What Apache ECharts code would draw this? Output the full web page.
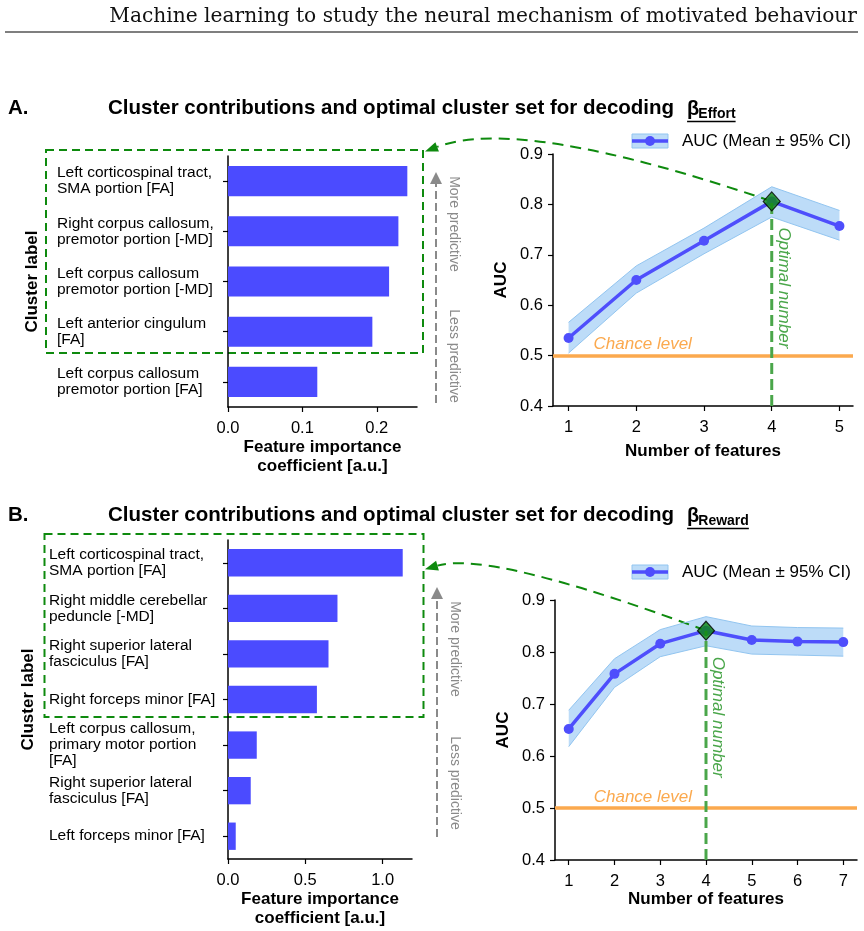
<!DOCTYPE html>
<html>
<head>
<meta charset="utf-8">
<script src="https://cdn.jsdelivr.net/npm/echarts@6/dist/echarts.min.js"></script>
<style>
  html, body { margin: 0; padding: 0; background: #fff; }
  #chart { width: 864px; height: 931px; }
</style>
</head>
<body>
<div id="chart"></div>
<script>
// ---- data ----
const effortLabels = [
  'Left corticospinal tract,\nSMA portion [FA]',
  'Right corpus callosum,\npremotor portion [-MD]',
  'Left corpus callosum\npremotor portion [-MD]',
  'Left anterior cingulum\n[FA]',
  'Left corpus callosum\npremotor portion [FA]'
];
const effortImportance = [0.241, 0.229, 0.2165, 0.194, 0.120];
const effortImportanceTicks = [0, 0.1, 0.2];

const effortFeatures = [1, 2, 3, 4, 5];
const effortAuc = [0.535, 0.650, 0.728, 0.806, 0.757];
const effortAucLow = [0.505, 0.624, 0.702, 0.775, 0.729];
const effortAucHigh = [0.566, 0.678, 0.753, 0.835, 0.788];
const effortOptimal = 4;

const rewardLabels = [
  'Left corticospinal tract,\nSMA portion [FA]',
  'Right middle cerebellar\npeduncle [-MD]',
  'Right superior lateral\nfasciculus [FA]',
  'Right forceps minor [FA]',
  'Left corpus callosum,\nprimary motor portion\n[FA]',
  'Right superior lateral\nfasciculus [FA]',
  'Left forceps minor [FA]'
];
const rewardImportance = [1.13, 0.708, 0.650, 0.575, 0.186, 0.147, 0.050];
const rewardImportanceTicks = [0, 0.5, 1.0];

const rewardFeatures = [1, 2, 3, 4, 5, 6, 7];
const rewardAuc = [0.652, 0.758, 0.816, 0.841, 0.823, 0.820, 0.819];
const rewardAucLow = [0.618, 0.732, 0.791, 0.812, 0.796, 0.794, 0.792];
const rewardAucHigh = [0.688, 0.787, 0.843, 0.868, 0.850, 0.847, 0.846];
const rewardOptimal = 4;

const chanceLevel = 0.5;
const aucMin = 0.4;
const aucMax = 0.9;

// ---- styles ----
const FONT = '"Liberation Sans", Arial, Helvetica, sans-serif';
const BAR_BLUE = '#4b4bff';
const LINE_BLUE = '#4e4efc';
const BAND_FILL = '#bddcf8';
const BAND_EDGE = '#92c5f0';
const GREEN = '#0e8a0e';
const LIGHT_GREEN = '#4aa64a';
const ORANGE = '#fba94e';
const GRAY = '#8a8a8a';

const chart = echarts.init(document.getElementById('chart'));

const axisLineStyle = { show: true, lineStyle: { color: '#000', width: 1.5 } };
const tickStyle = { show: true, length: 5, lineStyle: { color: '#000', width: 1.2 } };
const tickLabel = { color: '#000', fontFamily: FONT, fontSize: 16.5 };
const nameStyle = { color: '#000', fontFamily: FONT, fontSize: 17, fontWeight: 'bold' };

function importanceXAxis(gridIndex, max, ticks) {
  return {
    gridIndex, type: 'value', min: 0, max,
    axisLine: axisLineStyle,
    axisTick: { ...tickStyle, customValues: ticks },
    axisLabel: { ...tickLabel, customValues: ticks, margin: 13, formatter: v => v.toFixed(1) },
    splitLine: { show: false },
    name: 'Feature importance\ncoefficient [a.u.]',
    nameLocation: 'middle', nameGap: 30,
    nameTextStyle: { ...nameStyle, lineHeight: 19 }
  };
}

function labelYAxis(gridIndex, labels, margin, nameGap) {
  return {
    gridIndex, type: 'category', inverse: true, data: labels,
    axisLine: axisLineStyle,
    axisTick: { ...tickStyle, alignWithLabel: true },
    axisLabel: { color: '#000', fontFamily: FONT, fontSize: 15.5, lineHeight: 16,
                 align: 'left', margin, interval: 0 },
    name: 'Cluster label', nameLocation: 'middle', nameRotate: 90,
    nameGap, nameTextStyle: nameStyle
  };
}

function featureXAxis(gridIndex, min, max, ticks, gap) {
  return {
    gridIndex, type: 'value', min, max,
    axisLine: axisLineStyle,
    axisTick: { ...tickStyle, customValues: ticks },
    axisLabel: { ...tickLabel, customValues: ticks, margin: 13 },
    splitLine: { show: false },
    name: 'Number of features', nameLocation: 'middle', nameGap: gap,
    nameTextStyle: nameStyle
  };
}

function aucYAxis(gridIndex) {
  return {
    gridIndex, type: 'value', min: aucMin, max: aucMax, interval: 0.1,
    axisLine: axisLineStyle,
    axisTick: tickStyle,
    axisLabel: { ...tickLabel, margin: 10, formatter: v => v.toFixed(1) },
    splitLine: { show: false },
    name: 'AUC', nameLocation: 'middle', nameRotate: 90, nameGap: 43,
    nameTextStyle: nameStyle
  };
}

function aucSeries(axisIndex, features, mean, low, high, optimal) {
  const optIdx = features.indexOf(optimal);
  const edge = values => ({
    type: 'line', xAxisIndex: axisIndex, yAxisIndex: axisIndex,
    data: features.map((f, i) => [f, values[i]]),
    symbol: 'none', lineStyle: { color: BAND_EDGE, width: 1 }, z: 2, silent: true
  });
  return [
    {
      // 95% CI band, drawn through the axes' own coordinate system
      type: 'custom', xAxisIndex: axisIndex, yAxisIndex: axisIndex, silent: true, z: 1,
      data: features.map((f, i) => [f, low[i], high[i]]),
      encode: { x: 0, y: [1, 2] },
      renderItem: (params, api) => {
        if (params.dataIndex !== 0) return null;
        const top = features.map((f, i) => api.coord([f, high[i]]));
        const bottom = features.map((f, i) => api.coord([f, low[i]])).reverse();
        return { type: 'polygon', shape: { points: top.concat(bottom) },
                 style: { fill: BAND_FILL, stroke: null } };
      }
    },
    edge(low),
    edge(high),
    {
      type: 'line', xAxisIndex: axisIndex, yAxisIndex: axisIndex,
      data: features.map((f, i) => [f, mean[i]]),
      symbol: 'circle', symbolSize: 10,
      lineStyle: { color: LINE_BLUE, width: 3.5 },
      itemStyle: { color: LINE_BLUE }, z: 4, silent: true,
      markLine: {
        silent: true, symbol: 'none', label: { show: false },
        lineStyle: { color: ORANGE, width: 3.5, type: 'solid' },
        data: [{ yAxis: chanceLevel }], z: 3
      }
    },
    {
      type: 'line', xAxisIndex: axisIndex, yAxisIndex: axisIndex,
      data: [[optimal, aucMin], [optimal, mean[optIdx]]],
      symbol: 'none', lineStyle: { color: LIGHT_GREEN, width: 3, type: [11, 5] },
      z: 5, silent: true
    },
    {
      type: 'scatter', xAxisIndex: axisIndex, yAxisIndex: axisIndex,
      data: [[optimal, mean[optIdx]]],
      symbol: 'diamond', symbolSize: [17, 19],
      itemStyle: { color: GREEN, borderColor: '#000', borderWidth: 1.2 },
      z: 8, silent: true
    }
  ];
}

const option = {
  animation: false,
  backgroundColor: '#fff',
  textStyle: { fontFamily: FONT },
  grid: [
    { left: 228, top: 156, width: 189, height: 251, containLabel: false, outerBoundsMode: 'none' },
    { left: 553, top: 154, width: 300, height: 252, containLabel: false, outerBoundsMode: 'none' },
    { left: 228, top: 540, width: 184, height: 319, containLabel: false, outerBoundsMode: 'none' },
    { left: 555, top: 600, width: 302, height: 260, containLabel: false, outerBoundsMode: 'none' }
  ],
  xAxis: [
    importanceXAxis(0, 0.254, effortImportanceTicks),
    featureXAxis(1, 0.77, 5.2, effortFeatures, 37),
    importanceXAxis(2, 1.19, rewardImportanceTicks),
    featureXAxis(3, 0.7, 7.3, rewardFeatures, 31)
  ],
  yAxis: [
    labelYAxis(0, effortLabels, 171, 187),
    aucYAxis(1),
    labelYAxis(2, rewardLabels, 179, 191),
    aucYAxis(3)
  ],
  series: [
    {
      type: 'bar', xAxisIndex: 0, yAxisIndex: 0, data: effortImportance,
      barWidth: '60%', itemStyle: { color: BAR_BLUE }, silent: true
    },
    ...aucSeries(1, effortFeatures, effortAuc, effortAucLow, effortAucHigh, effortOptimal),
    {
      type: 'bar', xAxisIndex: 2, yAxisIndex: 2, data: rewardImportance,
      barWidth: '60%', itemStyle: { color: BAR_BLUE }, silent: true
    },
    ...aucSeries(3, rewardFeatures, rewardAuc, rewardAucLow, rewardAucHigh, rewardOptimal)
  ]
};

chart.setOption(option);

// ---- annotations ----
const measure = (() => {
  const ctx = document.createElement('canvas').getContext('2d');
  return (text, font) => { ctx.font = font; return ctx.measureText(text).width; };
})();

function titleBlock(letter, sub, y) {
  const main = 'Cluster contributions and optimal cluster set for decoding';
  const mainFont = 'bold 20.5px ' + FONT;
  const betaFont = 'bold 20px ' + FONT;
  const subFont = 'bold 14px ' + FONT;
  const x0 = 108;
  const xBeta = x0 + measure(main, mainFont) + 13;
  const xSub = xBeta + measure('β', betaFont) - 1;
  const xEnd = xSub + measure(sub, subFont);
  return [
    { type: 'text', x: 8, y, style: { text: letter, font: mainFont, fill: '#000', verticalAlign: 'middle' } },
    { type: 'text', x: x0, y, style: { text: main, font: mainFont, fill: '#000', verticalAlign: 'middle' } },
    { type: 'text', x: xBeta, y: y + 1, style: { text: 'β', font: betaFont, fill: '#000', verticalAlign: 'middle' } },
    { type: 'text', x: xSub, y: y + 6, style: { text: sub, font: subFont, fill: '#000', verticalAlign: 'middle' } },
    { type: 'line', shape: { x1: xBeta, y1: y + 13.5, x2: xEnd, y2: y + 13.5 },
      style: { stroke: '#000', lineWidth: 1.6 } }
  ];
}

function predictiveArrow(x, yBottom, yTip, moreY, lessY) {
  return [
    { type: 'line', shape: { x1: x, y1: yBottom, x2: x, y2: yTip + 10 },
      style: { stroke: GRAY, lineWidth: 2, lineDash: [8, 4] } },
    { type: 'polygon', shape: { points: [[x, yTip], [x - 6, yTip + 12], [x + 6, yTip + 12]] },
      style: { fill: GRAY } },
    { type: 'text', x: x + 18, y: moreY, rotation: -Math.PI / 2,
      style: { text: 'More predictive', font: '14px ' + FONT, fill: GRAY, align: 'center', verticalAlign: 'middle' } },
    { type: 'text', x: x + 18, y: lessY, rotation: -Math.PI / 2,
      style: { text: 'Less predictive', font: '14px ' + FONT, fill: GRAY, align: 'center', verticalAlign: 'middle' } }
  ];
}

function legendBlock(y) {
  const x0 = 632, w = 36;
  return [
    { type: 'rect', shape: { x: x0, y: y - 7, width: w, height: 14 },
      style: { fill: BAND_FILL, stroke: BAND_EDGE, lineWidth: 1 } },
    { type: 'line', shape: { x1: x0, y1: y, x2: x0 + w, y2: y },
      style: { stroke: LINE_BLUE, lineWidth: 3.5 } },
    { type: 'circle', shape: { cx: x0 + w / 2, cy: y, r: 5 }, style: { fill: LINE_BLUE } },
    { type: 'text', x: 682, y, style: { text: 'AUC (Mean ± 95% CI)', font: '17px ' + FONT,
      fill: '#000', verticalAlign: 'middle' } }
  ];
}

function optimalAnnotations(seriesIndex, optimal, meanAtOpt, boxCorner, ctrlOffset) {
  const p = chart.convertToPixel({ seriesIndex }, [optimal, meanAtOpt]);
  const c = chart.convertToPixel({ seriesIndex }, [1, chanceLevel]);
  const end = boxCorner;
  const ctrl = [end[0] + ctrlOffset[0], end[1] + ctrlOffset[1]];
  const dx = end[0] - ctrl[0], dy = end[1] - ctrl[1];
  const len = Math.hypot(dx, dy);
  const ux = dx / len, uy = dy / len;
  const head = 13, half = 5;
  const bx = end[0] - ux * head, by = end[1] - uy * head;
  return [
    { type: 'bezierCurve', z: 1,
      shape: { x1: p[0], y1: p[1], x2: bx, y2: by, cpx1: ctrl[0], cpy1: ctrl[1] },
      style: { stroke: GREEN, lineWidth: 2, lineDash: [11, 7], fill: null } },
    { type: 'polygon',
      shape: { points: [end, [bx - uy * half, by + ux * half], [bx + uy * half, by - ux * half]] },
      style: { fill: GREEN } },
    { type: 'text', x: p[0] + 12, y: p[1] + 26, rotation: -Math.PI / 2, z: 100,
      style: { text: 'Optimal number', font: 'italic 17px ' + FONT, fill: LIGHT_GREEN,
               align: 'left', verticalAlign: 'middle' } },
    { type: 'text', x: c[0] + 25, y: c[1] - 11, z: 100,
      style: { text: 'Chance level', font: 'italic 17px ' + FONT, fill: ORANGE,
               align: 'left', verticalAlign: 'middle' } }
  ];
}

const effortOpt = effortAuc[effortFeatures.indexOf(effortOptimal)];
const rewardOpt = rewardAuc[rewardFeatures.indexOf(rewardOptimal)];

const graphic = [
  { type: 'text', x: 857, y: 17, style: { text: 'Machine learning to study the neural mechanism of motivated behaviour',
    font: '20.2px "DejaVu Serif", serif', fill: '#111', align: 'right', verticalAlign: 'middle' } },
  { type: 'line', shape: { x1: 5, y1: 32, x2: 858, y2: 32 }, style: { stroke: '#000', lineWidth: 1.2 } },
  ...titleBlock('A.', 'Effort', 108),
  ...titleBlock('B.', 'Reward', 515),
  { type: 'rect', shape: { x: 46, y: 150, width: 377, height: 203 },
    style: { fill: null, stroke: GREEN, lineWidth: 2, lineDash: [8, 5] } },
  { type: 'rect', shape: { x: 44.5, y: 534, width: 379, height: 183 },
    style: { fill: null, stroke: GREEN, lineWidth: 2, lineDash: [8, 5] } },
  ...predictiveArrow(436, 403, 172, 224, 356),
  ...predictiveArrow(437, 837, 587, 649, 783),
  ...legendBlock(141),
  ...legendBlock(572),
  ...optimalAnnotations(6, effortOptimal, effortOpt, [425, 151.5], [95, -36]),
  ...optimalAnnotations(13, rewardOptimal, rewardOpt, [425, 569.3], [65, -19])
];

chart.setOption({ graphic });
</script>
</body>
</html>
